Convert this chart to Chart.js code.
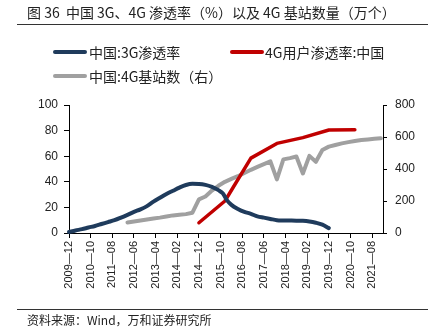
<!DOCTYPE html>
<html>
<head>
<meta charset="utf-8">
<script src="https://cdn.jsdelivr.net/npm/chart.js@4.4.1/dist/chart.umd.min.js"></script>
<style>
    body { margin: 0; background: #fff; font-family: "Noto Sans CJK SC", "Liberation Sans", sans-serif; }
    #wrap { position: relative; width: 443px; height: 334px; overflow: hidden; }
    #myChart { position: absolute; left: 0; top: 0; }
    .txt { position: absolute; white-space: nowrap; color: #222; line-height: 1; }
    .hr { position: absolute; left: 17px; width: 411px; height: 1px; background: #333; }
    .key { position: absolute; width: 34px; height: 4px; border-radius: 2px; }
</style>
</head>
<body>
<div id="wrap">
    <canvas id="myChart" width="443" height="334"></canvas>
    <div class="txt" style="left:27px; top:5px; font-size:14px;">图 36&nbsp; 中国 3G、4G 渗透率（%）以及 4G 基站数量（万个）</div>
    <div class="hr" style="top:24px;"></div>

    <div class="key" style="left:53px; top:50px; background:#1f3b5c;"></div>
    <div class="txt" style="left:89px; top:45px; font-size:14px;">中国:3G渗透率</div>
    <div class="key" style="left:230px; top:50px; background:#c00000;"></div>
    <div class="txt" style="left:265px; top:45px; font-size:14px;">4G用户渗透率:中国</div>
    <div class="key" style="left:53px; top:74px; background:#a0a0a0;"></div>
    <div class="txt" style="left:89px; top:69px; font-size:14px;">中国:4G基站数（右）</div>

    <div class="hr" style="top:309px;"></div>
    <div class="txt" style="left:27px; top:314px; font-size:12px;">资料来源：Wind，万和证券研究所</div>
</div>

<script>
// x axis tick labels (every 10 months)
const tickLabels = ['2009-12', '2010-10', '2011-08', '2012-06', '2013-04', '2014-02', '2014-12', '2015-10',
    '2016-08', '2017-06', '2018-04', '2019-02', '2019-12', '2020-10', '2021-08'];

// 中国:3G渗透率 (%)
const g3Dates = ['2009-12', '2010-03', '2010-06', '2010-09', '2010-12', '2011-03', '2011-06', '2011-09', '2011-12',
    '2012-03', '2012-06', '2012-09', '2012-12', '2013-03', '2013-06', '2013-09', '2013-12', '2014-03', '2014-06',
    '2014-09', '2014-12', '2015-03', '2015-06', '2015-09', '2015-11', '2016-01', '2016-03', '2016-06', '2016-09',
    '2016-12', '2017-03', '2017-06', '2017-09', '2017-12', '2018-03', '2018-06', '2018-09', '2018-12', '2019-03',
    '2019-06', '2019-09', '2019-12'];
const g3Rate = [0.8, 2, 3, 4.3, 5.5, 7, 8.5, 10, 12,
    14.2, 16.5, 18.5, 21, 24.5, 27.5, 30.5, 33, 35.5, 37.5,
    38.4, 38.3, 37.6, 36, 33.5, 31, 25.5, 22, 18.8, 16.5,
    15, 13, 12, 11, 10, 9.8, 9.7, 9.6, 9.5, 9,
    8, 6.5, 3.8];

// 4G用户渗透率:中国 (%)
const g4Dates = ['2014-12', '2015-12', '2016-12', '2017-12', '2018-12', '2019-12', '2020-12'];
const g4Rate = [8, 25, 58.5, 70, 74.5, 80.5, 80.7];

// 中国:4G基站数 (万个, right axis)
const stationDates = ['2012-03', '2012-06', '2012-09', '2012-12', '2013-03', '2013-06', '2013-09', '2013-12',
    '2014-03', '2014-06', '2014-09', '2014-12', '2015-03', '2015-06', '2015-09', '2015-12', '2016-03', '2016-06',
    '2016-09', '2016-12', '2017-03', '2017-06', '2017-09', '2017-12', '2018-03', '2018-06', '2018-09', '2018-12',
    '2019-03', '2019-06', '2019-09', '2019-12', '2020-03', '2020-06', '2020-09', '2020-12', '2021-03', '2021-06',
    '2021-09', '2021-12'];
const stations = [66, 72, 78, 84, 90, 96, 103, 110,
    114, 118, 127, 210, 228, 265, 295, 320, 338, 355,
    375, 395, 413, 430, 448, 335, 460, 468, 478, 372,
    482, 445, 519, 540, 550, 560, 568, 575, 581, 585,
    589, 592];

// month index counted from 2009-12
const monthIndex = (d) => {
    const [y, m] = d.split('-').map(Number);
    return (y - 2009) * 12 + (m - 12);
}

const toPoints = (dates, values) => dates.map((d, i) => ({ x: monthIndex(d), y: values[i] }));

const data = {
    datasets: [
        {
            label: '中国:3G渗透率',
            data: toPoints(g3Dates, g3Rate),
            borderColor: '#1f3b5c',
            borderWidth: 4,
            cubicInterpolationMode: 'monotone',
            yAxisID: 'y'
        },
        {
            label: '4G用户渗透率:中国',
            data: toPoints(g4Dates, g4Rate),
            borderColor: '#c00000',
            borderWidth: 3.5,
            yAxisID: 'y'
        },
        {
            label: '中国:4G基站数（右）',
            data: toPoints(stationDates, stations),
            borderColor: '#a0a0a0',
            borderWidth: 4,
            yAxisID: 'y1'
        }
    ]
};

const tickFont = { family: 'Liberation Sans', size: 12 };

const config = {
    type: 'line',
    data: data,
    options: {
        responsive: false,
        animation: false,
        events: [],
        clip: false,
        layout: { padding: { top: 105, left: 0, right: 15, bottom: 41 } },
        elements: {
            point: { radius: 0 },
            line: { tension: 0, borderCapStyle: 'round', borderJoinStyle: 'round' }
        },
        plugins: {
            legend: { display: false },
            tooltip: { enabled: false }
        },
        scales: {
            x: {
                type: 'linear',
                min: 0,
                max: 145,
                afterFit: (scale) => { scale.height = 60; },
                border: { display: true, color: '#000', width: 1 },
                grid: { drawOnChartArea: false, tickLength: 5, tickColor: '#000' },
                ticks: {
                    stepSize: 10,
                    includeBounds: false,
                    autoSkip: false,
                    maxRotation: 90,
                    minRotation: 90,
                    padding: 3,
                    color: '#222',
                    font: { family: 'Liberation Sans', size: 11 },
                    callback: (v) => (tickLabels[v / 10] || '').replace('-', '—')
                }
            },
            y: {
                position: 'left',
                min: 0,
                max: 100,
                afterFit: (scale) => { scale.width = 69; },
                border: { display: true, color: '#000', width: 1 },
                grid: { drawOnChartArea: false, tickLength: 5, tickColor: '#000' },
                ticks: { stepSize: 20, padding: 6, color: '#222', font: tickFont }
            },
            y1: {
                position: 'right',
                min: 0,
                max: 800,
                afterFit: (scale) => { scale.width = 45; },
                border: { display: true, color: '#000', width: 1 },
                grid: { drawOnChartArea: false, tickLength: 4, tickColor: '#000' },
                ticks: { stepSize: 200, padding: 8, color: '#222', font: tickFont }
            }
        }
    }
};

const myChart = new Chart(
    document.getElementById('myChart'),
    config
);
</script>
</body>
</html>
